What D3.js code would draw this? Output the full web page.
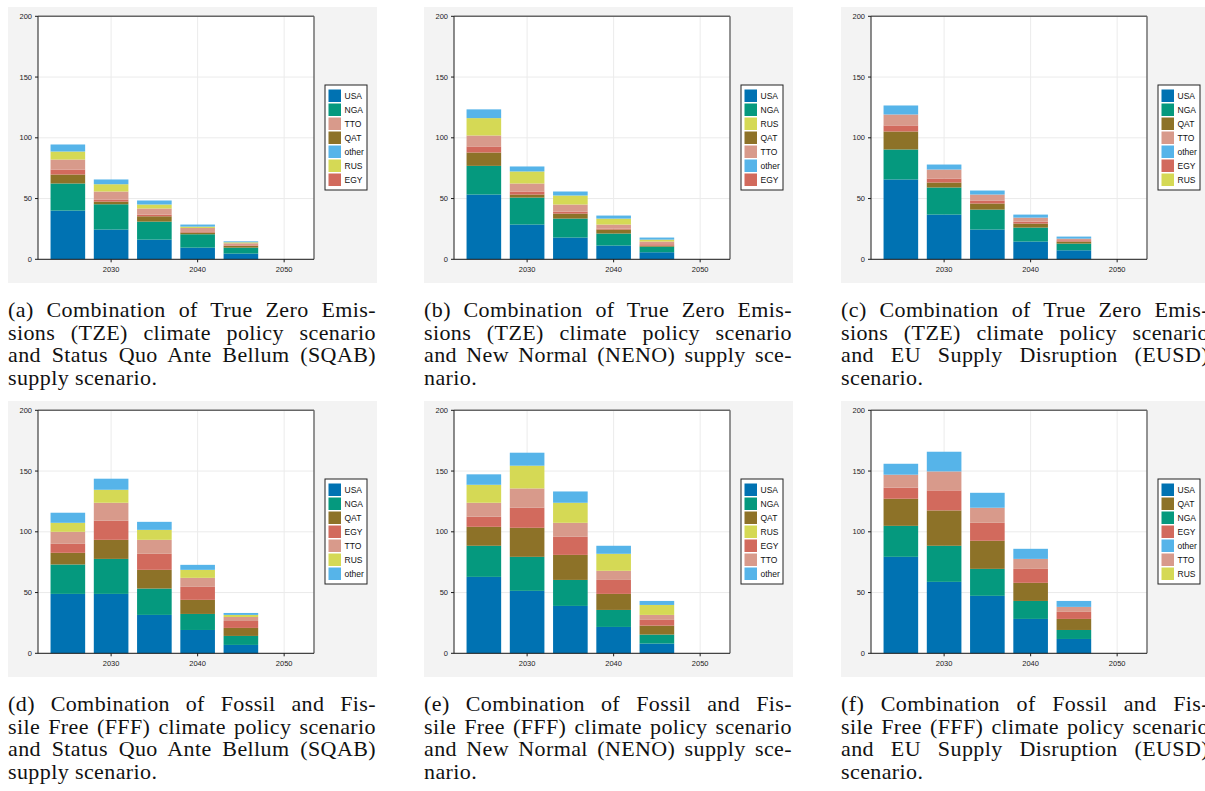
<!DOCTYPE html>
<html>
<head>
  <meta charset="utf-8">
  <title>Gas imports by scenario</title>
  <script src="https://d3js.org/d3.v7.min.js"></script>
  <style>
    body { margin: 0; background: #ffffff; }
    #wrap { position: relative; width: 1205px; height: 791px; overflow: hidden; }
    svg { position: absolute; left: 0; top: 0; }
    .caption {
      position: absolute;
      width: 368px;
      font-family: 'Liberation Serif', 'Times New Roman', serif;
      font-size: 22px;
      letter-spacing: 0.4px;
      line-height: 22.7px;
      color: #111;
    }
    .caption div { white-space: nowrap; text-align: justify; text-align-last: justify; }
    .caption div.last { text-align-last: left; }
    .tick-label { font-family: 'Liberation Sans', Arial, sans-serif; font-size: 7.5px; fill: #222; }
    .legend-label { font-family: 'Liberation Sans', Arial, sans-serif; font-size: 8.5px; fill: #111; }
  </style>
</head>
<body>
<div id="wrap"></div>
<script>
// years and stacking order
const years = [2025, 2030, 2035, 2040, 2045, 2050];
const stackOrder = ["USA", "NGA", "QAT", "EGY", "TTO", "RUS", "other"];
const colors = {
  USA: "#0072b2", NGA: "#05997e", QAT: "#8d7228", EGY: "#d26a5d",
  TTO: "#d89a8b", RUS: "#d5d955", other: "#56b4e9"
};
const yTicks = [0, 50, 100, 150, 200];
const xTicks = [2030, 2040, 2050];

// (a) TZE + SQAB
const tzeSqab = {
  USA: [40.1, 24.5, 16.2, 9.6, 4.7, 0],
  NGA: [22.3, 20.8, 14.8, 11.0, 4.9, 0],
  QAT: [7.4, 2.2, 4.4, 1.4, 1.4, 0],
  EGY: [4.1, 1.7, 1.4, 0.5, 0.5, 0],
  TTO: [8.2, 6.6, 5.0, 3.3, 1.7, 0],
  RUS: [6.6, 6.0, 3.3, 1.1, 0.8, 0],
  other: [5.8, 3.9, 3.3, 1.7, 0.8, 0]
};
// (b) TZE + NENO
const tzeNeno = {
  USA: [53.3, 28.6, 17.9, 11.3, 5.8, 0],
  NGA: [23.6, 22.2, 15.6, 9.9, 4.6, 0],
  QAT: [11.0, 2.5, 4.1, 3.3, 0.9, 0],
  EGY: [5.0, 2.5, 1.7, 0.8, 1.1, 0],
  TTO: [9.0, 6.6, 5.8, 3.3, 2.2, 0],
  RUS: [14.3, 9.9, 7.4, 4.9, 1.6, 0],
  other: [7.2, 4.1, 3.3, 2.5, 1.7, 0]
};
// (c) TZE + EUSD
const tzeEusd = {
  USA: [65.7, 36.8, 24.5, 14.6, 7.4, 0],
  NGA: [24.7, 22.3, 16.4, 11.5, 5.5, 0],
  QAT: [14.8, 4.1, 5.0, 3.3, 1.7, 0],
  EGY: [5.0, 3.3, 2.5, 1.6, 1.1, 0],
  TTO: [9.0, 7.4, 4.9, 3.3, 1.3, 0],
  RUS: [0, 0, 0, 0, 0, 0],
  other: [7.4, 4.1, 3.3, 2.5, 1.7, 0]
};
// (d) FFF + SQAB
const fffSqab = {
  USA: [48.9, 48.9, 31.6, 19.2, 6.9, 0],
  NGA: [24.2, 28.8, 21.7, 13.2, 7.4, 0],
  QAT: [9.6, 15.7, 15.4, 11.6, 6.6, 0],
  EGY: [7.4, 15.7, 13.2, 10.7, 5.7, 0],
  TTO: [9.9, 14.8, 11.5, 7.4, 3.3, 0],
  RUS: [7.4, 10.7, 8.2, 6.6, 1.7, 0],
  other: [8.3, 9.1, 6.6, 4.1, 1.6, 0]
};
// (e) FFF + NENO
const fffNeno = {
  USA: [62.9, 51.4, 39.0, 21.7, 8.0, 0],
  NGA: [25.6, 28.0, 21.4, 14.0, 7.4, 0],
  QAT: [15.6, 23.9, 20.6, 13.2, 7.4, 0],
  EGY: [8.3, 16.5, 14.9, 11.5, 4.7, 0],
  TTO: [11.5, 15.9, 11.5, 7.5, 4.1, 0],
  RUS: [14.8, 18.7, 16.5, 14.0, 8.2, 0],
  other: [8.6, 10.7, 9.3, 6.6, 3.3, 0]
};
// (f) FFF + EUSD
const fffEusd = {
  USA: [79.4, 58.8, 47.3, 28.3, 11.8, 0],
  NGA: [25.5, 29.7, 22.2, 14.8, 7.4, 0],
  QAT: [22.3, 29.1, 23.1, 14.9, 9.1, 0],
  EGY: [9.1, 16.5, 14.8, 11.5, 5.8, 0],
  TTO: [10.7, 15.6, 12.4, 8.2, 4.1, 0],
  RUS: [0, 0, 0, 0, 0, 0],
  other: [9.0, 16.2, 12.3, 8.3, 4.9, 0]
};

const legendA = ["USA", "NGA", "TTO", "QAT", "other", "RUS", "EGY"];
const legendB = ["USA", "NGA", "RUS", "QAT", "TTO", "other", "EGY"];
const legendC = ["USA", "NGA", "QAT", "TTO", "other", "EGY", "RUS"];
const legendD = ["USA", "NGA", "QAT", "EGY", "TTO", "RUS", "other"];
const legendE = ["USA", "NGA", "QAT", "RUS", "EGY", "TTO", "other"];
const legendF = ["USA", "QAT", "NGA", "EGY", "other", "TTO", "RUS"];

const captionTZE = ["Combination of True Zero Emis-", "sions (TZE) climate policy scenario"];
const captionFFF = ["Combination of Fossil and Fis-", "sile Free (FFF) climate policy scenario"];
const captionSQAB = ["and Status Quo Ante Bellum (SQAB)", "supply scenario."];
const captionNENO = ["and New Normal (NENO) supply sce-", "nario."];
const captionEUSD = ["and EU Supply Disruption (EUSD)", "scenario."];

const panels = [
  { id: "a", data: tzeSqab, legend: legendA, cap: captionTZE, cap2: captionSQAB, x: 8, y: 7 },
  { id: "b", data: tzeNeno, legend: legendB, cap: captionTZE, cap2: captionNENO, x: 424, y: 7 },
  { id: "c", data: tzeEusd, legend: legendC, cap: captionTZE, cap2: captionEUSD, x: 841, y: 7 },
  { id: "d", data: fffSqab, legend: legendD, cap: captionFFF, cap2: captionSQAB, x: 8, y: 401 },
  { id: "e", data: fffNeno, legend: legendE, cap: captionFFF, cap2: captionNENO, x: 424, y: 401 },
  { id: "f", data: fffEusd, legend: legendF, cap: captionFFF, cap2: captionEUSD, x: 841, y: 401 }
];

const wrap = d3.select("#wrap");
const svg = wrap.append("svg").attr("width", 1205).attr("height", 791);

const bgW = 369, bgH = 276;
const plot = { left: 30, top: 9.3, width: 276, height: 243 };

const x = d3.scaleLinear().domain([2021.55, 2053.45]).range([0, plot.width]);
const y = d3.scaleLinear().domain([0, 200]).range([plot.height, 0]);
const barW = x(2029) - x(2025);

panels.forEach(p => {
  const g = svg.append("g").attr("transform", `translate(${p.x}, ${p.y})`);

  // figure background
  g.append("rect").attr("width", bgW).attr("height", bgH).attr("fill", "#f3f3f3");

  const ax = g.append("g").attr("transform", `translate(${plot.left}, ${plot.top})`);
  ax.append("rect").attr("width", plot.width).attr("height", plot.height).attr("fill", "#ffffff");

  // grid
  ax.selectAll(".gy").data(yTicks).join("line")
    .attr("x1", 0).attr("x2", plot.width)
    .attr("y1", d => y(d)).attr("y2", d => y(d))
    .attr("stroke", "#ebebeb").attr("stroke-width", 1);
  ax.selectAll(".gx").data(xTicks).join("line")
    .attr("x1", d => x(d)).attr("x2", d => x(d))
    .attr("y1", 0).attr("y2", plot.height)
    .attr("stroke", "#ebebeb").attr("stroke-width", 1);

  // stacked bars
  const rows = years.map((yr, i) => {
    const r = { year: yr };
    stackOrder.forEach(k => r[k] = p.data[k][i]);
    return r;
  });
  const series = d3.stack().keys(stackOrder)(rows);
  ax.selectAll(".layer").data(series).join("g")
    .attr("fill", d => colors[d.key])
    .selectAll("rect").data(d => d).join("rect")
    .attr("x", d => x(d.data.year) - barW / 2)
    .attr("width", barW)
    .attr("y", d => y(d[1]))
    .attr("height", d => Math.max(0, y(d[0]) - y(d[1])));

  // frame
  ax.append("line").attr("x1", 0).attr("x2", plot.width).attr("y1", 0).attr("y2", 0)
    .attr("stroke", "#666").attr("stroke-width", 1.4);
  ax.append("line").attr("x1", plot.width).attr("x2", plot.width).attr("y1", 0).attr("y2", plot.height)
    .attr("stroke", "#666").attr("stroke-width", 1.4);
  ax.append("line").attr("x1", 0).attr("x2", 0).attr("y1", 0).attr("y2", plot.height)
    .attr("stroke", "#1a1a1a").attr("stroke-width", 1);
  ax.append("line").attr("x1", 0).attr("x2", plot.width).attr("y1", plot.height).attr("y2", plot.height)
    .attr("stroke", "#1a1a1a").attr("stroke-width", 1);

  // ticks and labels
  ax.selectAll(".ty").data(yTicks).join("line")
    .attr("x1", -3).attr("x2", 0).attr("y1", d => y(d)).attr("y2", d => y(d))
    .attr("stroke", "#1a1a1a");
  ax.selectAll(".ly").data(yTicks).join("text")
    .attr("class", "tick-label")
    .attr("x", -6).attr("y", d => y(d)).attr("dy", "0.35em")
    .attr("text-anchor", "end").text(d => d);
  ax.selectAll(".tx").data(xTicks).join("line")
    .attr("x1", d => x(d)).attr("x2", d => x(d)).attr("y1", plot.height).attr("y2", plot.height + 3)
    .attr("stroke", "#1a1a1a");
  ax.selectAll(".lx").data(xTicks).join("text")
    .attr("class", "tick-label")
    .attr("x", d => x(d)).attr("y", plot.height + 10).attr("dy", "0.35em")
    .attr("text-anchor", "middle").text(d => d);

  // legend
  const lg = g.append("g").attr("transform", "translate(317, 78)");
  lg.append("rect").attr("width", 42).attr("height", 105)
    .attr("fill", "#ffffff").attr("stroke", "#222").attr("stroke-width", 1);
  const item = lg.selectAll(".item").data(p.legend).join("g")
    .attr("transform", (d, i) => `translate(3.5, ${4.5 + i * 14})`);
  item.append("rect").attr("width", 12.5).attr("height", 12.5).attr("fill", d => colors[d]);
  item.append("text").attr("class", "legend-label")
    .attr("x", 16).attr("y", 6.5).attr("dy", "0.35em").text(d => d);

  // caption (the figure is cropped on the right, as in the source)
  const lines = [`(${p.id}) ${p.cap[0]}`, p.cap[1], p.cap2[0], p.cap2[1]];
  const cap = wrap.append("div").attr("class", "caption")
    .style("left", `${p.x}px`).style("top", `${p.y + 292}px`);
  cap.selectAll("div").data(lines).join("div")
    .attr("class", (d, i) => i === lines.length - 1 ? "last" : null)
    .text(d => d);
});
</script>
</body>
</html>
